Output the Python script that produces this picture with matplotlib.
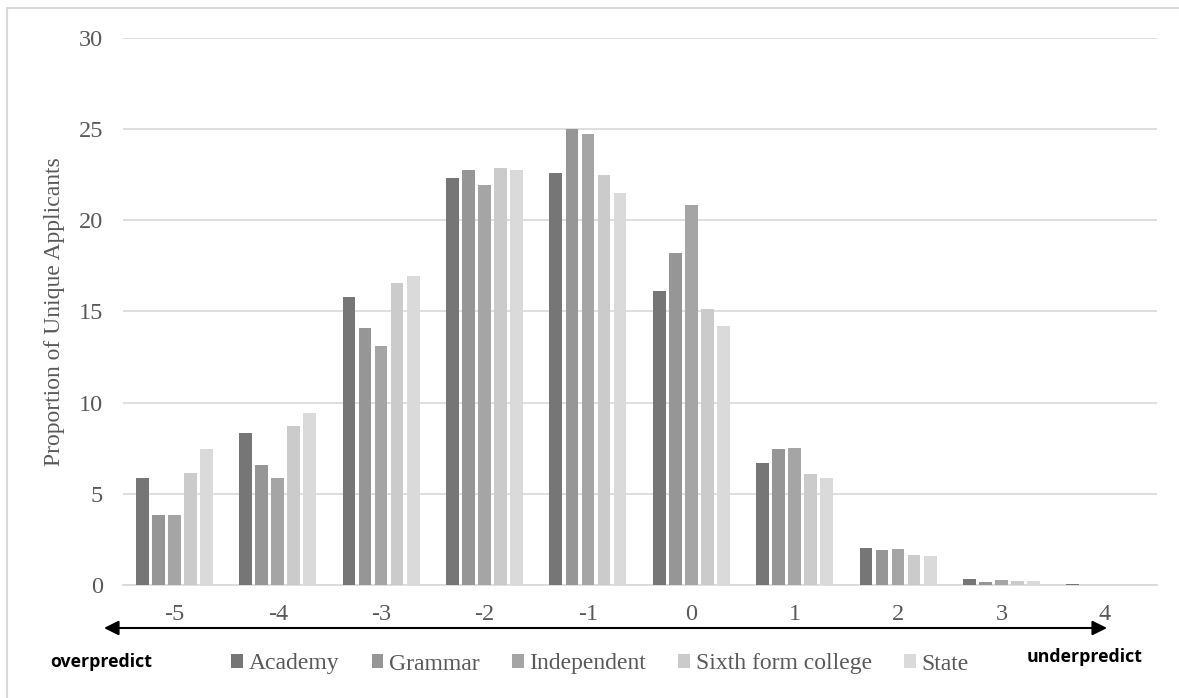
import matplotlib.pyplot as plt
import numpy as np
from matplotlib.patches import Rectangle, FancyArrowPatch

categories = ['-5', '-4', '-3', '-2', '-1', '0', '1', '2', '3', '4']
academy = [5.87, 8.35, 15.8, 22.3, 22.6, 16.1, 6.7, 2.0, 0.3, 0.03]
grammar = [3.85, 6.55, 14.1, 22.75, 25.0, 18.2, 7.45, 1.9, 0.15, 0.02]
independent = [3.85, 5.85, 13.1, 21.9, 24.7, 20.85, 7.5, 1.95, 0.25, 0.02]
sixth_form = [6.15, 8.7, 16.55, 22.85, 22.5, 15.15, 6.1, 1.65, 0.2, 0.02]
state = [7.45, 9.45, 16.95, 22.75, 21.5, 14.2, 5.85, 1.6, 0.2, 0.02]

series = [('Academy', academy, '#767676'),
          ('Grammar', grammar, '#969696'),
          ('Independent', independent, '#a5a5a5'),
          ('Sixth form college', sixth_form, '#cbcbcb'),
          ('State', state, '#dadada')]

plt.rcParams['font.family'] = ['Liberation Serif', 'DejaVu Serif']

fig = plt.figure(figsize=(11.79, 6.98), dpi=100)
ax = fig.add_axes([0.104, 0.162, 0.877, 0.784])

x = np.arange(len(categories))
step = 0.155
width = 0.123
for i, (name, vals, col) in enumerate(series):
    ax.bar(x + (i - 2) * step, vals, width, color=col, label=name, zorder=3)

ax.set_xlim(-0.5, len(categories) - 0.5)
ax.set_ylim(0, 30)
ax.set_yticks(range(0, 31, 5))
ax.set_xticks(x)
ax.set_xticklabels(categories)
ax.tick_params(length=0, labelsize=17.5, colors='#595959', pad=14)
ax.tick_params(axis='y', pad=14)
ax.grid(axis='y', color='#d9d9d9', linewidth=1.2, zorder=0)
for s in ['top', 'right', 'left']:
    ax.spines[s].set_visible(False)
ax.spines['bottom'].set_color('#d9d9d9')
ax.spines['bottom'].set_linewidth(1.2)
ax.set_ylabel('Proportion of Unique Applicants', fontsize=17, color='#595959', labelpad=10)

# outer frame
fig.patches.append(Rectangle((7 / 1179, -0.1), 1.2, 1.1 - 8 / 698, transform=fig.transFigure,
                             fill=False, edgecolor='#d9d9d9', linewidth=1.5))

# double arrow under the axis
arr = FancyArrowPatch((104 / 1179, 1 - 628 / 698), (1107 / 1179, 1 - 628 / 698),
                      transform=fig.transFigure, arrowstyle='<|-|>', mutation_scale=22,
                      color='black', linewidth=1.5, shrinkA=0, shrinkB=0)
fig.patches.append(arr)

fig.text(50 / 1179, 1 - 662 / 698, 'overpredict', fontsize=12.8, fontweight='bold',
         family=['Open Sans', 'DejaVu Sans'], va='center', ha='left')
fig.text(1143 / 1179, 1 - 657 / 698, 'underpredict', fontsize=12.8, fontweight='bold',
         family=['Open Sans', 'DejaVu Sans'], va='center', ha='right')

fig.legend(loc='center', bbox_to_anchor=(600 / 1179, 1 - 664 / 698), ncol=5, frameon=False,
           fontsize=17, handlelength=0.5, handleheight=0.5, handletextpad=0.25,
           columnspacing=1.35, labelcolor='#595959', borderpad=0)

fig.savefig('out.png', dpi=100)
